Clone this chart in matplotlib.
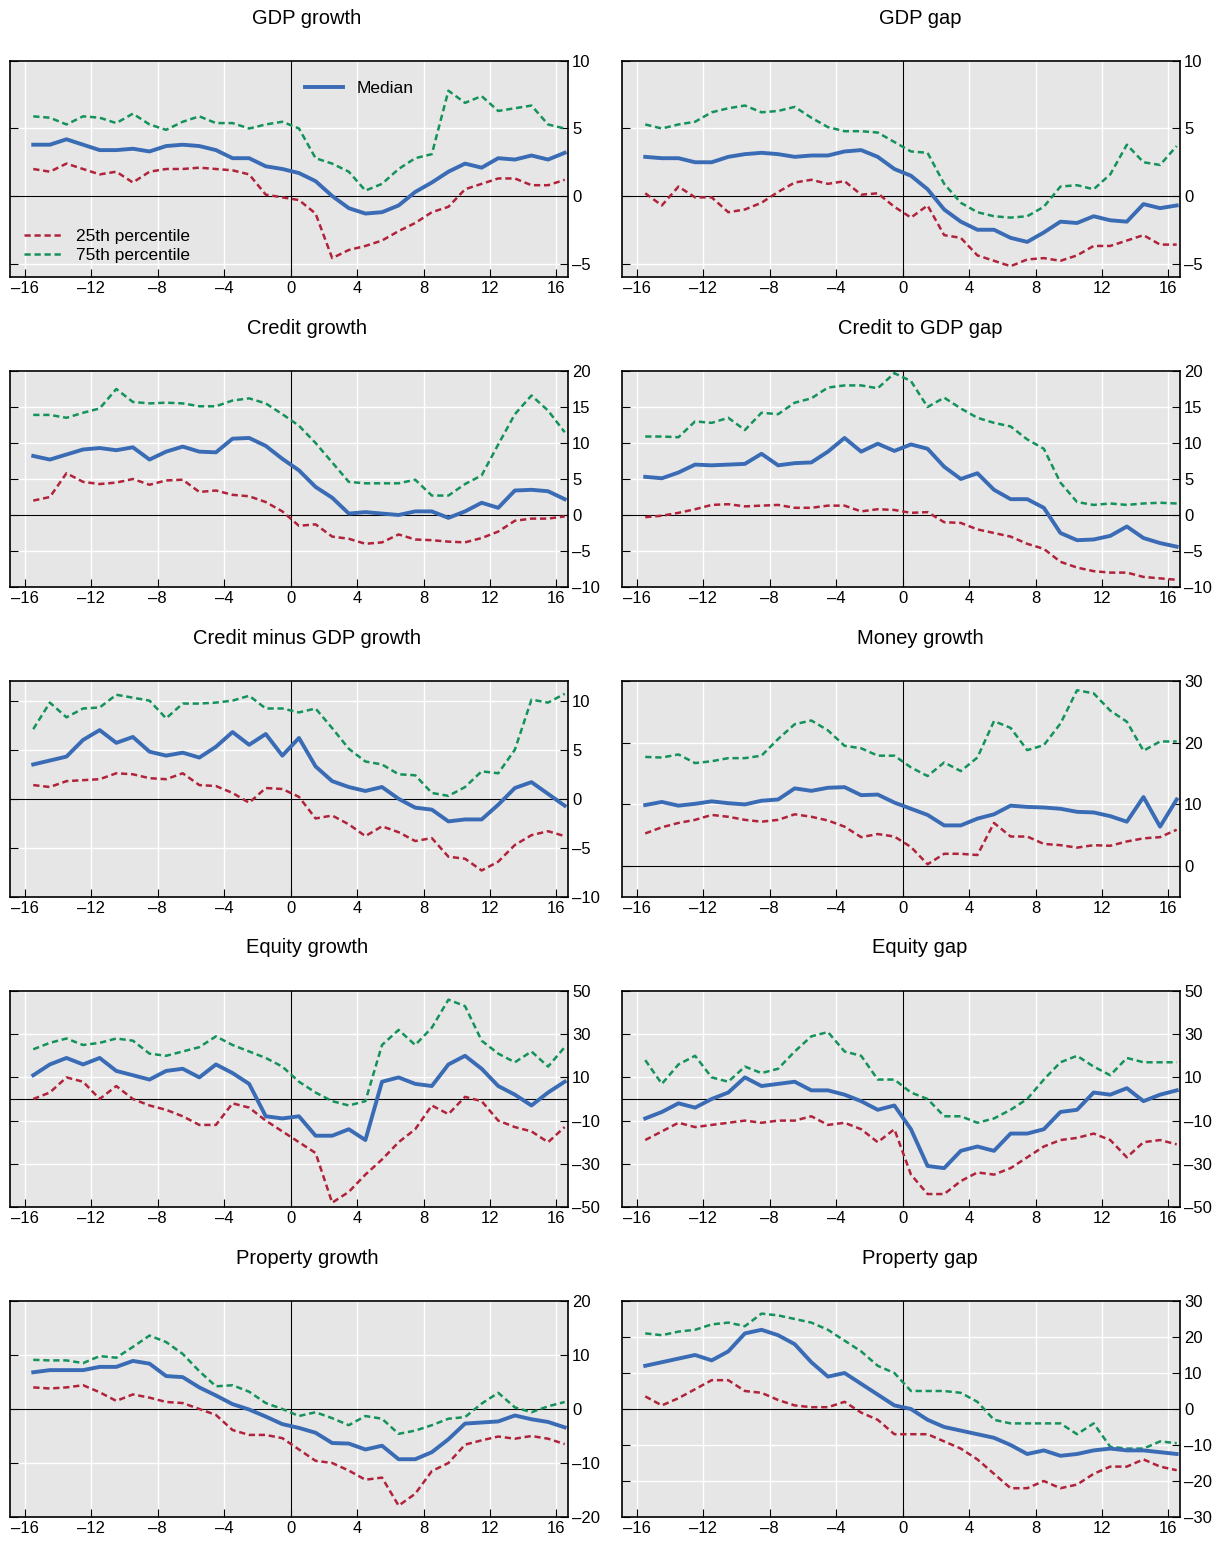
import matplotlib
matplotlib.use("Agg")
import matplotlib.pyplot as plt
import numpy as np

plt.rcParams['font.family'] = ['Liberation Sans', 'DejaVu Sans']

quarters = np.arange(-15.5, 17.0, 1.0)

titles = ["GDP growth", "GDP gap", "Credit growth", "Credit to GDP gap",
          "Credit minus GDP growth", "Money growth", "Equity growth", "Equity gap",
          "Property growth", "Property gap"]

median = [
    [3.8,3.8,4.2,3.8,3.4,3.4,3.5,3.3,3.7,3.8,3.7,3.4,2.8,2.8,2.2,2.0,1.7,1.1,0,-0.9,-1.3,-1.2,-0.7,0.3,1.0,1.8,2.4,2.1,2.8,2.7,3.0,2.7,3.2],
    [2.9,2.8,2.8,2.5,2.5,2.9,3.1,3.2,3.1,2.9,3.0,3.0,3.3,3.4,2.9,2.0,1.5,0.5,-1.0,-1.9,-2.5,-2.5,-3.1,-3.4,-2.7,-1.9,-2.0,-1.5,-1.8,-1.9,-0.6,-0.9,-0.7],
    [8.2,7.7,8.4,9.1,9.3,9.0,9.4,7.7,8.8,9.5,8.8,8.7,10.6,10.7,9.6,7.8,6.2,3.9,2.4,0.2,0.4,0.2,0,0.5,0.5,-0.4,0.5,1.7,1.0,3.4,3.5,3.3,2.2],
    [5.3,5.1,5.9,7.0,6.9,7.0,7.1,8.5,6.9,7.2,7.3,8.8,10.7,8.8,9.9,8.9,9.8,9.2,6.7,5.0,5.8,3.5,2.2,2.2,1.0,-2.5,-3.5,-3.4,-2.9,-1.6,-3.2,-3.9,-4.4],
    [3.5,3.9,4.3,6.0,7.0,5.7,6.3,4.8,4.4,4.7,4.2,5.3,6.8,5.5,6.6,4.4,6.2,3.3,1.8,1.2,0.8,1.2,0,-0.9,-1.1,-2.3,-2.1,-2.1,-0.6,1.1,1.7,0.5,-0.7],
    [9.9,10.4,9.8,10.1,10.5,10.2,10.0,10.6,10.8,12.6,12.2,12.7,12.8,11.5,11.6,10.3,9.3,8.3,6.6,6.6,7.7,8.4,9.8,9.6,9.5,9.3,8.8,8.7,8.1,7.2,11.2,6.4,10.8],
    [11,16,19,16,19,13,11,9,13,14,10,16,12,7,-8,-9,-8,-17,-17,-14,-19,8,10,7,6,16,20,14,6,2,-3,3,8],
    [-9,-6,-2,-4,0,3,10,6,7,8,4,4,2,-1,-5,-3,-14,-31,-32,-24,-22,-24,-16,-16,-14,-6,-5,3,2,5,-1,2,4],
    [6.8,7.2,7.2,7.2,7.8,7.8,8.9,8.4,6.1,5.9,4.0,2.5,0.9,-0.1,-1.4,-2.8,-3.5,-4.4,-6.3,-6.4,-7.5,-6.8,-9.3,-9.3,-8.0,-5.6,-2.7,-2.5,-2.3,-1.2,-1.9,-2.4,-3.4],
    [12,13,14,15,13.5,16,21,22,20.5,18,13,9,10,7,4,1,0,-3,-5,-6,-7,-8,-10,-12.5,-11.5,-13,-12.5,-11.5,-11,-11.5,-11.5,-12,-12.5],
]

p25 = [
    [2.0,1.8,2.4,2.0,1.6,1.8,1.0,1.8,2.0,2.0,2.1,2.0,1.9,1.6,0.1,-0.1,-0.3,-1.3,-4.6,-4.0,-3.7,-3.3,-2.6,-2.0,-1.2,-0.8,0.5,0.9,1.3,1.3,0.8,0.8,1.2],
    [0.2,-0.7,0.7,-0.1,-0.1,-1.2,-1.0,-0.5,0.3,1.0,1.2,0.9,1.1,0.1,0.2,-0.8,-1.6,-0.7,-2.9,-3.1,-4.4,-4.8,-5.2,-4.7,-4.6,-4.8,-4.4,-3.7,-3.7,-3.3,-2.9,-3.6,-3.6],
    [2.0,2.5,5.8,4.6,4.3,4.5,5.0,4.2,4.8,4.9,3.2,3.4,2.8,2.6,1.8,0.5,-1.5,-1.3,-3.0,-3.3,-4.0,-3.8,-2.7,-3.4,-3.5,-3.7,-3.8,-3.2,-2.3,-0.8,-0.5,-0.5,-0.2],
    [-0.3,-0.1,0.3,0.8,1.4,1.5,1.2,1.3,1.4,1.0,1.0,1.3,1.3,0.5,0.8,0.7,0.3,0.4,-1.0,-1.1,-2.0,-2.5,-3.0,-4.0,-4.7,-6.5,-7.3,-7.8,-8.0,-8.0,-8.6,-8.8,-9.0],
    [1.4,1.2,1.8,1.9,2.0,2.6,2.5,2.1,2.0,2.6,1.4,1.3,0.6,-0.4,1.1,1.0,0.2,-2.0,-1.7,-2.6,-3.8,-2.8,-3.4,-4.3,-4.0,-5.9,-6.1,-7.3,-6.4,-4.7,-3.7,-3.3,-3.8],
    [5.3,6.3,7.0,7.5,8.3,8.0,7.5,7.2,7.5,8.4,8.0,7.4,6.4,4.7,5.2,4.8,3.1,0.3,2.0,2.0,1.8,7.0,4.8,4.8,3.6,3.4,3.0,3.4,3.3,4.0,4.5,4.7,5.9],
    [0,3,10,8,0,6,0,-3,-5,-8,-12,-12,-2,-4,-10,-15,-20,-25,-48,-43,-35,-28,-20,-14,-3,-7,1,-1,-10,-13,-15,-20,-13],
    [-19,-15,-11,-13,-12,-11,-10,-11,-10,-10,-8,-12,-11,-14,-20,-14,-35,-44,-44,-38,-34,-35,-32,-27,-22,-19,-18,-16,-19,-27,-20,-19,-21],
    [4.0,3.8,4.0,4.4,3.1,1.5,2.7,2.1,1.3,1.1,0.0,-1.1,-3.9,-4.8,-4.8,-5.4,-7.5,-9.6,-10.0,-11.4,-13.1,-12.7,-17.9,-15.7,-11.5,-10.0,-6.6,-5.8,-5.1,-5.5,-5.0,-5.5,-6.5],
    [3.5,1,3,5.5,8,8,5,4.5,2.5,1,0.5,0.5,2,-1,-3,-7,-7,-7,-9,-11,-14,-18,-22,-22,-20,-22,-21,-18,-16,-16,-14,-16,-17],
]

p75 = [
    [5.9,5.8,5.3,5.9,5.8,5.4,6.1,5.3,4.9,5.5,5.9,5.4,5.4,5.0,5.3,5.5,5.0,2.8,2.4,1.8,0.4,0.9,2.0,2.8,3.1,7.8,6.9,7.4,6.3,6.5,6.7,5.3,5.0],
    [5.3,5.0,5.3,5.5,6.2,6.5,6.7,6.2,6.3,6.6,5.8,5.1,4.8,4.8,4.7,4.0,3.3,3.2,0.9,-0.5,-1.2,-1.5,-1.6,-1.5,-0.8,0.7,0.8,0.5,1.6,3.8,2.5,2.3,3.7],
    [13.9,13.9,13.5,14.2,14.8,17.5,15.7,15.5,15.6,15.5,15.1,15.1,15.9,16.2,15.5,14.0,12.4,10.0,7.3,4.6,4.4,4.4,4.4,4.9,2.7,2.7,4.3,5.5,9.8,14.0,16.6,14.5,11.5],
    [10.9,10.9,10.8,13.0,12.8,13.5,11.8,14.2,14.0,15.6,16.2,17.7,18.0,18.0,17.6,19.7,18.6,15.0,16.3,14.8,13.5,12.8,12.3,10.5,9.2,4.5,1.8,1.4,1.6,1.4,1.6,1.7,1.6],
    [7.1,9.8,8.3,9.2,9.3,10.6,10.3,10.0,8.2,9.7,9.7,9.8,10.0,10.5,9.2,9.2,8.8,9.2,7.2,5.1,3.8,3.5,2.5,2.4,0.6,0.3,1.2,2.8,2.6,5.0,10.1,9.8,10.7],
    [17.7,17.6,18.1,16.7,17.0,17.5,17.5,17.9,20.6,23.0,23.6,22.0,19.5,19.1,17.9,17.9,16.0,14.6,16.8,15.4,17.6,23.5,22.4,18.8,19.6,23.1,28.5,28.0,25.2,23.4,18.7,20.2,20.2],
    [23,26,28,25,26,28,27,21,20,22,24,29,25,22,19,15,8,3,-1,-3,-1,25,32,25,33,46,43,27,21,17,22,15,24],
    [18,7,16,20,10,8,15,12,14,22,29,31,22,20,9,9,3,0,-8,-8,-11,-9,-5,0,9,17,20,15,11,19,17,17,17],
    [9.1,9.0,9.0,8.5,9.8,9.5,11.5,13.6,12.4,10.2,7.0,4.2,4.4,3.2,1.1,0.0,-1.3,-0.6,-1.7,-3.0,-1.3,-1.8,-4.6,-4.0,-3.0,-1.8,-1.5,1.0,3.0,0.3,-0.6,0.5,1.3],
    [21,20.5,21.5,22,23.5,24,23,26.5,26,25,24,22,19,16,12,10,5,5,5,4.5,2,-3,-4,-4,-4,-4,-7,-4,-10.5,-11,-11,-9,-9.5],
]

ylims = [(-6, 10), (-6, 10), (-10, 20), (-10, 20), (-10, 12), (-5, 30),
         (-50, 50), (-50, 50), (-20, 20), (-30, 30)]
yticks = [[-5, 0, 5, 10], [-5, 0, 5, 10], range(-10, 21, 5), range(-10, 21, 5),
          [-10, -5, 0, 5, 10], [0, 10, 20, 30], range(-50, 51, 20), range(-50, 51, 20),
          range(-20, 21, 10), range(-30, 31, 10)]

BLUE = "#3a6bb5"
RED = "#b0233a"
GREEN = "#13925a"

W, H = 1231, 1544
fig = plt.figure(figsize=(W / 100, H / 100), dpi=100)
lefts = [10, 622]
title_x = [307, 920]
tops = [61, 371, 681, 991, 1301]
aw, ah = 558, 216

def dash(v):
    return str(v).replace("-", "\u2013")

for i in range(10):
    r, c = divmod(i, 2)
    x0 = lefts[c]
    y0 = tops[r]
    ax = fig.add_axes([x0 / W, 1 - (y0 + ah) / H, aw / W, ah / H])
    ax.set_facecolor("#e6e6e6")
    ax.set_xlim(-16.9, 16.7)
    ax.set_ylim(*ylims[i])
    ax.set_xticks(range(-16, 17, 4))
    ax.set_xticklabels([dash(v) for v in range(-16, 17, 4)])
    ax.set_yticks(list(yticks[i]))
    ax.set_yticklabels([dash(v) for v in yticks[i]])
    ax.grid(True, color="white", linewidth=1.0)
    ax.set_axisbelow(True)
    ax.yaxis.tick_right()
    ax.tick_params(direction="in", length=6, labelsize=12, left=True, right=True,
                   bottom=True, top=False, labelleft=False, labelright=True, pad=3)
    for s in ax.spines.values():
        s.set_linewidth(1.2)
    ax.axhline(0, color="black", linewidth=0.8)
    ax.axvline(0, color="black", linewidth=0.8)
    l25, = ax.plot(quarters, p25[i], color=RED, linestyle=(0, (2.5, 1.5)), linewidth=1.8, label="25th percentile")
    l75, = ax.plot(quarters, p75[i], color=GREEN, linestyle=(0, (2.5, 1.5)), linewidth=1.8, label="75th percentile")
    lm, = ax.plot(quarters, median[i], color=BLUE, linewidth=2.8, label="Median")
    fig.text(title_x[c] / W, 1 - (y0 - 43) / H, titles[i], fontsize=14.5, ha="center", va="center")
    if i == 0:
        leg1 = ax.legend(handles=[lm], loc="upper left", bbox_to_anchor=(0.5, 0.98),
                         frameon=False, fontsize=12.5, handlelength=2.2)
        ax.add_artist(leg1)
        ax.legend(handles=[l25, l75], loc="lower left", frameon=False, fontsize=12.5,
                  handlelength=2.2, labelspacing=0.2, borderaxespad=0.4)

fig.savefig("out.png", dpi=100)
